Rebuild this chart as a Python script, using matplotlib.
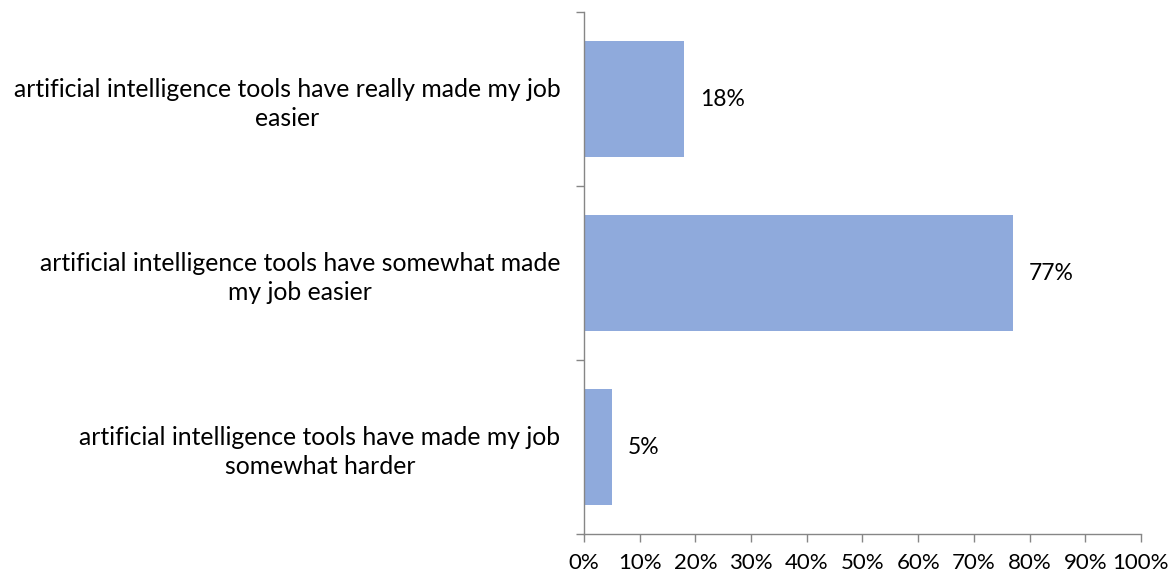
import numpy as np
from matplotlib import pyplot as plt
from matplotlib.ticker import FixedLocator, MultipleLocator, PercentFormatter

categories = [
    "artificial intelligence tools have really made my job\neasier",
    "artificial intelligence tools have somewhat made\nmy job easier",
    "artificial intelligence tools have made my job\nsomewhat harder",
]
shares = [18, 77, 5]
value_labels = ["18%", "77%", "5%"]

plt.rcParams['font.family'] = ['Lato', 'DejaVu Sans']
plt.rcParams['font.size'] = 16

axis_grey = '#868686'
bar_blue = '#8FAADC'

fig = plt.figure(figsize=(11.75, 5.73), dpi=100)
ax = fig.add_axes([0.497, 0.068, 0.474, 0.911])

ypos = np.arange(len(categories))[::-1]
ax.barh(ypos, shares, height=0.67, color=bar_blue, zorder=2)

# value labels just right of each bar
for y, v, txt in zip(ypos, shares, value_labels):
    ax.annotate(txt, xy=(v, y), xytext=(16, 0), textcoords='offset pixels',
                ha='left', va='center', fontsize=16.5, color='black')

ax.set_xlim(0, 100)
ax.set_ylim(-0.5, len(categories) - 0.5)

ax.xaxis.set_major_locator(MultipleLocator(10))
ax.xaxis.set_major_formatter(PercentFormatter(decimals=0))

# category labels at centres, tick marks between categories
ax.set_yticks(ypos)
ax.set_yticklabels(categories, ha='right', multialignment='center',
                   fontsize=17.8, linespacing=1.3)
ax.yaxis.set_minor_locator(FixedLocator(np.arange(-0.5, len(categories), 1.0)))
ax.tick_params(axis='y', which='major', length=0, pad=17)
ax.tick_params(axis='y', which='minor', length=6, width=1, color=axis_grey)
ax.tick_params(axis='x', which='major', length=6, width=1, color=axis_grey, pad=8)

for side in ['top', 'right']:
    ax.spines[side].set_visible(False)
for side in ['left', 'bottom']:
    ax.spines[side].set_color(axis_grey)
    ax.spines[side].set_linewidth(1)

fig.savefig('out.png', dpi=100)
